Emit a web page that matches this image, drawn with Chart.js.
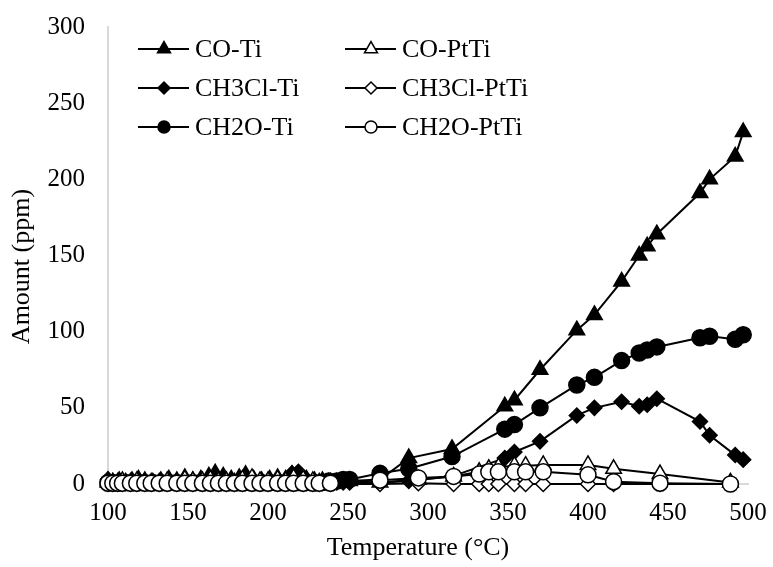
<!DOCTYPE html>
<html>
<head>
<meta charset="utf-8">
<script src="https://cdn.jsdelivr.net/npm/chart.js@4.4.1/dist/chart.umd.min.js"></script>
<style>
  html, body { margin: 0; padding: 0; background: #fff; }
  #wrap { width: 773px; height: 567px; position: relative; }
</style>
</head>
<body>
<div id="wrap"><canvas id="amountChart"></canvas></div>
<script>
// Ti samples (filled markers)
const tempTi = [100,103,107,111,115,119,123,128,133,138,143,148,153,158,163,167,172,177,182,186,191,196,201,206,211,215,219,224,229,234,238,243,247,251,
                270,288,315,348,354,370,393,404,421,432,437,443,470,476,492,497];
const coTi = [2,1,2,1,2,3,2,1,2,3,2,4,2,3,5,7,5,3,4,6,3,2,3,4,3,6,5,3,2,2,1,1,1,2,
              3,17,23,51,55,75,101,111,133,150,156,164,191,200,215,231];
const ch3clTi = [3,1,2,1,1,2,1,1,2,2,1,3,2,2,3,4,3,2,2,4,2,2,2,3,2,7,8,3,2,1,1,1,1,1,
                 1,2,5,17,21,28,45,50,54,51,52,56,41,32,19,16];
const ch2oTi = [1,1,1,1,1,1,1,1,1,1,1,1,1,1,1,2,2,1,1,1,1,1,1,1,1,1,1,1,1,1,2,2,3,3,
                7,10,18,36,39,50,65,70,81,86,88,90,96,97,95,98];

// PtTi samples (open markers)
const tempPt = [100,103,106,109,114,118,123,127,132,137,143,148,153,159,164,169,174,179,184,190,195,200,206,211,216,222,228,232,239,
                270,294,316,332,338,344,354,361,372,400,416,445,489];
const coPt = [1,1,1,2,1,2,1,1,1,2,1,3,2,2,3,2,2,1,3,4,2,2,3,2,4,3,2,1,1,
              1,3,5,8,10,11,12,12,12.5,12.5,10,6.5,1];
const ch3clPt = [0,0,0,0,0,0,0,0,0,0,0,0,0,0,0,0,0,0,0,0,0,0,0,0,0,0,0,0,0,
                 0,0.5,0,0,0,0,0,0,0,0,0,0,0];
const ch2oPt = [0.5,0.5,0.5,0.5,0.5,0.5,0.5,0.5,0.5,0.5,0.5,0.5,0.5,0.5,0.5,0.5,0.5,0.5,0.5,0.5,0.5,0.5,0.5,0.5,0.5,0.5,0.5,0.5,0.5,
                2.5,4,5,6.5,8,8,8,8,8,6,1.5,0.5,0];

const xTicks = [100,150,200,250,300,350,400,450,500];
const yTicks = [0,50,100,150,200,250,300];
const xTitle = 'Temperature (°C)';
const yTitle = 'Amount (ppm)';

const FONT = "'Liberation Serif', 'Times New Roman', serif";

function pts(xs, ys) {
  return xs.map((x, i) => ({ x: x, y: ys[i] }));
}

function makeSet(label, xs, ys, style, filled, radius, order) {
  return {
    label: label,
    data: pts(xs, ys),
    showLine: true,
    borderColor: '#000',
    borderWidth: 2,
    pointStyle: style,
    pointRadius: radius,
    pointBackgroundColor: filled ? '#000' : '#fff',
    pointBorderColor: '#000',
    pointBorderWidth: 1.5,
    tension: 0,
    clip: 12,
    order: order
  };
}

const datasets = [
  makeSet('CO-Ti', tempTi, coTi, 'triangle', true, 9, 5),
  makeSet('CO-PtTi', tempPt, coPt, 'triangle', false, 9, 2),
  makeSet('CH3Cl-Ti', tempTi, ch3clTi, 'rectRot', true, 7.5, 4),
  makeSet('CH3Cl-PtTi', tempPt, ch3clPt, 'rectRot', false, 7.5, 1),
  makeSet('CH2O-Ti', tempTi, ch2oTi, 'circle', true, 8, 3),
  makeSet('CH2O-PtTi', tempPt, ch2oPt, 'circle', false, 8, 0)
];

// marker path for the legend
function markerPath(ctx, style, x, y, r) {
  ctx.beginPath();
  if (style === 'triangle') {
    for (let k = 0; k < 3; k++) {
      const a = k * 2 * Math.PI / 3;
      const px = x + Math.sin(a) * r, py = y - Math.cos(a) * r;
      if (k === 0) ctx.moveTo(px, py); else ctx.lineTo(px, py);
    }
    ctx.closePath();
  } else if (style === 'rectRot') {
    ctx.moveTo(x - r, y); ctx.lineTo(x, y - r); ctx.lineTo(x + r, y); ctx.lineTo(x, y + r);
    ctx.closePath();
  } else {
    ctx.arc(x, y, r, 0, Math.PI * 2);
  }
}

// legend inside the plot (2 columns) + axis titles a bit off-centre like the original
const insideLegend = {
  id: 'insideLegend',
  afterDraw(chart) {
    const ctx = chart.ctx;
    const area = chart.chartArea;
    const cols = [area.left + 30, area.left + 237];
    const rows = [area.top + 22, area.top + 61, area.top + 100];
    ctx.save();
    ctx.font = '26px ' + FONT;
    ctx.textBaseline = 'middle';
    ctx.fillStyle = '#000';
    chart.data.datasets.forEach((ds, i) => {
      const x = cols[i % 2], y = rows[Math.floor(i / 2)];
      ctx.strokeStyle = '#000';
      ctx.lineWidth = 2;
      ctx.beginPath();
      ctx.moveTo(x, y); ctx.lineTo(x + 51, y);
      ctx.stroke();
      const r = ds.pointStyle === 'triangle' ? 7.5 : 6;
      markerPath(ctx, ds.pointStyle, x + 26, y, r);
      ctx.fillStyle = ds.pointBackgroundColor;
      ctx.fill();
      ctx.lineWidth = 1.5;
      ctx.stroke();
      ctx.fillStyle = '#000';
      ctx.fillText(ds.label, x + 57, y + 1);
    });

    ctx.textAlign = 'center';
    ctx.fillText(xTitle, (area.left + area.right) / 2 - 10, 548);
    ctx.translate(22, (area.top + area.bottom) / 2 + 11);
    ctx.rotate(-Math.PI / 2);
    ctx.fillText(yTitle, 0, 0);
    ctx.restore();
  }
};

new Chart(document.getElementById('amountChart'), {
  type: 'scatter',
  data: { datasets: datasets },
  plugins: [insideLegend],
  options: {
    responsive: true,
    maintainAspectRatio: false,
    animation: false,
    layout: { padding: { left: 0, right: 25, top: 27, bottom: 0 } },
    plugins: {
      legend: { display: false },
      tooltip: { enabled: false }
    },
    scales: {
      x: {
        type: 'linear',
        min: 100,
        max: 500,
        afterFit(scale) {
          scale.height = 83;
          scale.paddingLeft = 0;
          scale.paddingRight = 0;
        },
        afterBuildTicks(scale) { scale.ticks = xTicks.map(v => ({ value: v })); },
        grid: { display: false, drawTicks: false },
        border: { display: true, color: '#d9d9d9', width: 2 },
        ticks: { color: '#000', padding: 14, font: { family: FONT, size: 25 } }
      },
      y: {
        type: 'linear',
        min: 0,
        max: 300,
        afterFit(scale) {
          scale.width = 108;
          scale.paddingTop = 0;
          scale.paddingBottom = 0;
        },
        afterBuildTicks(scale) { scale.ticks = yTicks.map(v => ({ value: v })); },
        grid: { display: false, drawTicks: false },
        border: { display: true, color: '#d9d9d9', width: 2 },
        ticks: { color: '#000', padding: 23, font: { family: FONT, size: 25 } }
      }
    }
  }
});
</script>
</body>
</html>
